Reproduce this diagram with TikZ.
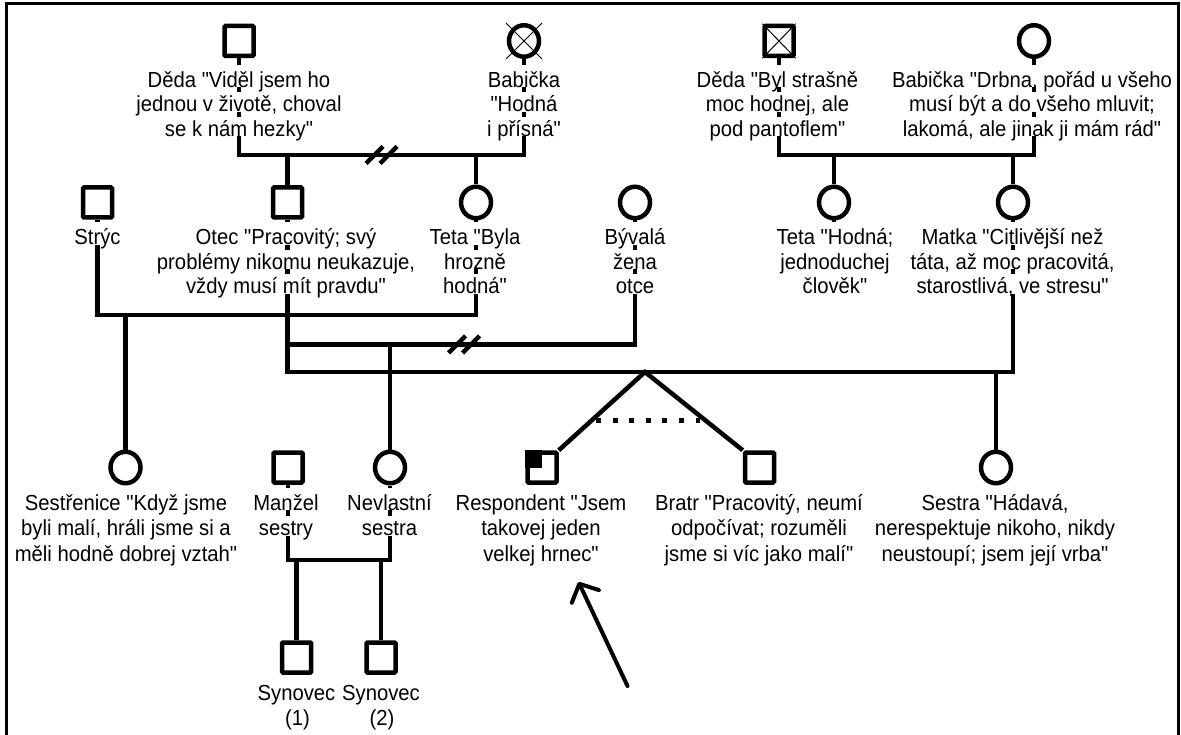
\documentclass[tikz,border=0pt]{standalone}
\usepackage{fontspec}
\setmainfont{Liberation Sans}[Ligatures=TeXOff, FakeStretch=0.93]
\usetikzlibrary{arrows.meta,calc,shapes.geometric}
\pgfdeclarelayer{bg}
\pgfsetlayers{bg,main}
\newcommand\lblfont{\fontsize{21.8pt}{25pt}\selectfont}
\begin{document}
\begin{tikzpicture}[x=1pt,y=-1pt,
  sym/.style={draw, line width=4.5pt, fill=white, inner sep=0pt},
  sq/.style={sym, rectangle, minimum width=29pt, minimum height=30pt, rounded corners=1pt},
  ci/.style={sym, ellipse, minimum width=30pt, minimum height=31.5pt},
  ln/.style={anchor=base, fill=white, inner sep=0pt, text height=19.8pt, text depth=0pt, font=\lblfont},
  lf/.style={ln, text height=22.5pt},
  conn/.style={line width=4.5pt, line join=miter},
  xline/.style={line width=1pt},
  frm/.style={line width=3pt},
  slash/.style={line width=4.5pt},
  dotline/.style={line width=5pt, dash pattern=on 5pt off 11.6pt},
]
\useasboundingbox (0,0) rectangle (1181,735);
\draw[frm] (6.5,740) -- (6.5,3.5) -- (1178.5,3.5) -- (1178.5,740);

% ---------- row 1
\node[sq] (d1) at (239,41) {};
\node[lf] (d1a) at (239,87.5) {Děda "Viděl jsem ho};
\node[ln] (d1b) at (239,112) {jednou v životě, choval};
\node[ln] (d1c) at (239,136.5) {se k nám hezky"};

\node[ci] (b1) at (524,41) {};
\node[lf] (b1a) at (524,87.5) {Babička};
\node[ln] (b1b) at (524,112) {"Hodná};
\node[ln] (b1c) at (524,136.5) {i přísná"};

\node[sq] (d2) at (779,41) {};
\node[lf] (d2a) at (777.5,87.5) {Děda "Byl strašně};
\node[ln] (d2b) at (777.5,112) {moc hodnej, ale};
\node[ln] (d2c) at (777.5,136.5) {pod pantoflem"};

\node[ci] (b2) at (1034,41) {};
\node[lf] (b2a) at (1032,87.5) {Babička "Drbna, pořád u všeho};
\node[ln] (b2b) at (1032,112) {musí být a do všeho mluvit;};
\node[ln] (b2c) at (1032,136.5) {lakomá, ale jinak ji mám rád"};

% ---------- row 2
\node[sq] (s) at (97.5,202.5) {};
\node[lf] (sa) at (97.5,245) {Strýc};

\node[sq] (o) at (287.5,202.5) {};
\node[lf] (oa) at (286,245) {Otec "Pracovitý; svý};
\node[ln] (ob) at (286,269.5) {problémy nikomu neukazuje,};
\node[ln] (oc) at (286,294) {vždy musí mít pravdu"};

\node[ci] (t1) at (476,202.5) {};
\node[lf] (t1a) at (475,245) {Teta "Byla};
\node[ln] (t1b) at (475,269.5) {hrozně};
\node[ln] (t1c) at (475,294) {hodná"};

\node[ci] (bz) at (635,202.5) {};
\node[lf] (bza) at (635,245) {Bývalá};
\node[ln] (bzb) at (635,269.5) {žena};
\node[ln] (bzc) at (635,294) {otce};

\node[ci] (t2) at (834,202.5) {};
\node[lf] (t2a) at (835,245) {Teta "Hodná;};
\node[ln] (t2b) at (835,269.5) {jednoduchej};
\node[ln] (t2c) at (835,294) {člověk"};

\node[ci] (m) at (1013,202.5) {};
\node[lf] (ma) at (1012.5,245) {Matka "Citlivější než};
\node[ln] (mb) at (1012.5,269.5) {táta, až moc pracovitá,};
\node[ln] (mc) at (1012.5,294) {starostlivá, ve stresu"};

% ---------- row 3
\node[ci] (se) at (125.5,467.5) {};
\node[lf] (sea) at (126,510) {Sestřenice "Když jsme};
\node[ln] (seb) at (126,535.5) {byli malí, hráli jsme si a};
\node[ln] (sec) at (126,561) {měli hodně dobrej vztah"};

\node[sq] (mz) at (288,467.5) {};
\node[lf] (mza) at (286,510) {Manžel};
\node[ln] (mzb) at (286,535.5) {sestry};

\node[ci] (ns) at (390,467.5) {};
\node[lf] (nsa) at (389.5,510) {Nevlastní};
\node[ln] (nsb) at (389.5,535.5) {sestra};

\node[sq] (r) at (542,467.5) {};
\node[lf] (ra) at (541,510) {Respondent "Jsem};
\node[ln] (rb) at (541,535.5) {takovej jeden};
\node[ln] (rc) at (541,561) {velkej hrnec"};
\fill (r.north west) rectangle (r.center);

\node[sq] (br) at (759.5,467.5) {};
\node[lf] (bra) at (759,510) {Bratr "Pracovitý, neumí};
\node[ln] (brb) at (759,535.5) {odpočívat; rozuměli};
\node[ln] (brc) at (759,561) {jsme si víc jako malí"};

\node[ci] (ss) at (996,467.5) {};
\node[lf] (ssa) at (995,510) {Sestra "Hádavá,};
\node[ln] (ssb) at (995,535.5) {nerespektuje nikoho, nikdy};
\node[ln] (ssc) at (995,561) {neustoupí; jsem její vrba"};

% ---------- row 4
\node[sq] (n1) at (296.6,657.5) {};
\node[lf] (n1a) at (296.5,700) {Synovec};
\node[ln] (n1b) at (297.5,725) {(1)};
\node[sq] (n2) at (381,657.5) {};
\node[lf] (n2a) at (381,700) {Synovec};
\node[ln] (n2b) at (382,725) {(2)};

% crosses (deceased)
\draw[xline] (d2.north west) -- (d2.south east) (d2.north east) -- (d2.south west);
\draw[xline] ($(b1)+(-18,-18)$) -- ($(b1)+(18,18)$) ($(b1)+(18,-18)$) -- ($(b1)+(-18,18)$);

% ---------- connectors
\coordinate (m1) at (381.5,155);
\coordinate (m2) at (906,155);
\coordinate (st) at (300,315);
\coordinate (obz) at (464,344.5);
\coordinate (om) at (645,372);
\coordinate (mn) at (339,560);
\coordinate (tw1) at (596,420);
\coordinate (tw2) at (700,420);
\coordinate (at) at (627.5,686);
\coordinate (ah) at (578.5,582);

\begin{pgfonlayer}{bg}
\draw[conn] (d1.south) |- (m1) -| (b1.south);
\draw[conn] (o.north |- m1) -- (o.north);
\draw[conn] (t1.north |- m1) -- (t1.north);
\draw[conn] (d2.south) |- (m2) -| (b2.south);
\draw[conn] (t2.north |- m2) -- (t2.north);
\draw[conn] (m.north |- m2) -- (m.north);
\draw[conn] (t2.south) -- (t2.south |- t2a.north);
\draw[conn] (s.south) |- (st) -| (t1.south);
\draw[conn] (se.north |- st) -- (se.north);
\draw[conn] (o.south) |- (obz) -| (bz.south);
\draw[conn] (ns.north |- obz) -- (ns.north);
\draw[conn] (o.south) |- (om) -| (m.south);
\draw[conn] (r.north east) -- (om) -- (br.north west);
\draw[conn] (ss.north |- om) -- (ss.north);
\draw[conn] (mz.south) |- (mn) -| (ns.south);
\draw[conn] (n1.north |- mn) -- (n1.north);
\draw[conn] (n2.north |- mn) -- (n2.north);
\end{pgfonlayer}

\draw[dotline] (tw1) -- (tw2);
\foreach \dx in {-7,7} {
  \draw[slash] ($(m1)+(\dx-8.5,8.5)$) -- ++(17,-17);
  \draw[slash] ($(obz)+(\dx-8.5,8.5)$) -- ++(17,-17);
}
\draw[line width=4pt, line cap=round, -{Straight Barb[length=14pt,width=30pt,round]}] (at) -- (ah);
\end{tikzpicture}
\end{document}
